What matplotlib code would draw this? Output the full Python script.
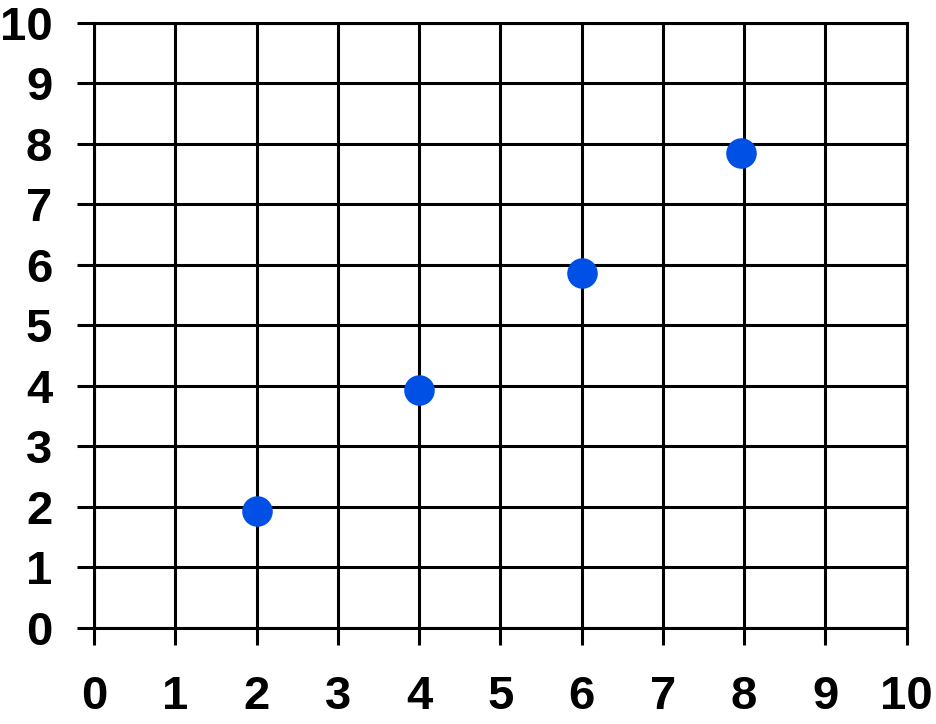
import matplotlib
matplotlib.use('Agg')
import matplotlib.pyplot as plt

# data
x_vals = [2, 4, 6, 7.96]
y_vals = [1.93, 3.93, 5.87, 7.85]
x_ticks = list(range(0, 11))
y_ticks = list(range(0, 11))

POINT_COLOR = '#0050E6'
LINE_W = 2.2

plt.rcParams['font.family'] = ['Liberation Sans', 'DejaVu Sans']

fig = plt.figure(figsize=(9.37, 7.24), dpi=100)
ax = fig.add_axes([94/937, 1 - 627.7/724, (906.7 - 94)/937, (627.7 - 22.7)/724])

ax.set_xlim(0, 10)
ax.set_ylim(0, 10)
ax.set_xticks(x_ticks)
ax.set_yticks(y_ticks)
ax.set_xticklabels([str(t) for t in x_ticks], fontsize=34, fontweight='bold')
ax.set_yticklabels([str(t) for t in y_ticks], fontsize=34, fontweight='bold')

ax.grid(True, color='black', linewidth=LINE_W)
ax.set_axisbelow(True)
for sp in ax.spines.values():
    sp.set_color('black')
    sp.set_linewidth(LINE_W)

ax.tick_params(axis='x', direction='out', length=12, width=LINE_W, pad=22)
ax.tick_params(axis='y', direction='out', length=12, width=LINE_W, pad=18)

ax.plot(x_vals, y_vals, linestyle='none', marker='o', markersize=22,
        color=POINT_COLOR, markeredgewidth=0, zorder=5, clip_on=False)

fig.savefig('out.png', dpi=100)
